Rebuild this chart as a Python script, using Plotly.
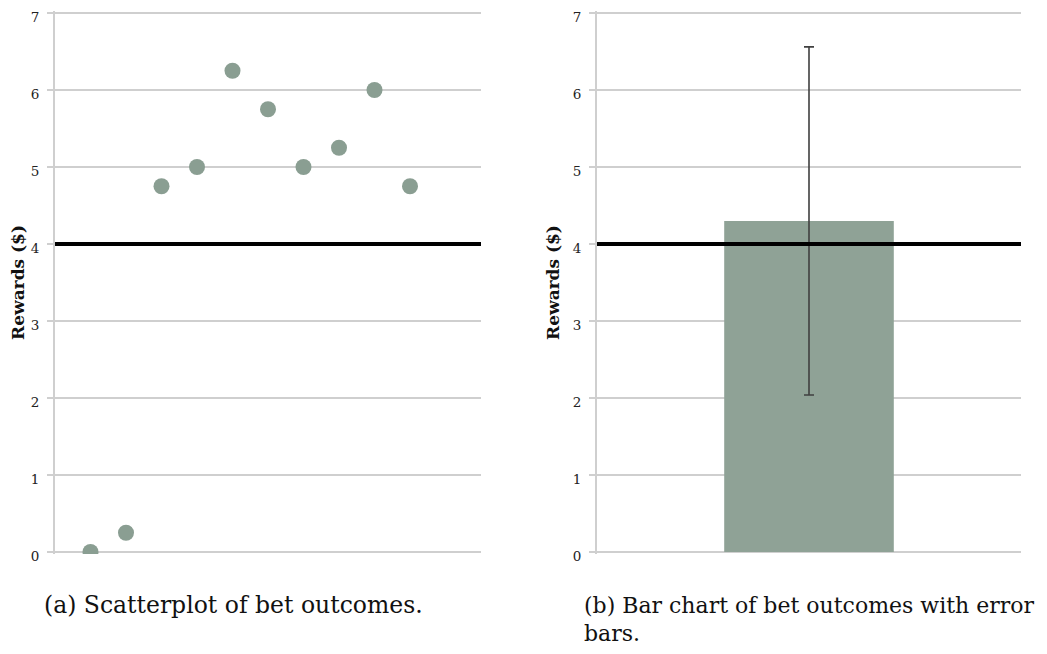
import plotly.graph_objects as go

# Data
bet_index = [1, 2, 3, 4, 5, 6, 7, 8, 9, 10]
rewards = [0, 0.25, 4.75, 5, 6.25, 5.75, 5, 5.25, 6, 4.75]
bar_mean = [4.3]
bar_err = [2.26]
threshold = 4
y_ticks = [0, 1, 2, 3, 4, 5, 6, 7]

GRID = "#cfcfcf"
MARK = "#8a9e92"

# page has an 8px body margin: work in window pixels, convert to paper coords
OFF = 8
W, H = 1047 - 2 * OFF, 654 - 2 * OFF


def px_x(p):
    return (p - OFF) / W


def px_y(p):
    return 1 - (p - OFF) / H


fig = go.Figure()

fig.add_trace(go.Scatter(
    x=bet_index, y=rewards, mode="markers",
    marker=dict(color=MARK, size=16, line=dict(width=0)),
    xaxis="x", yaxis="y", showlegend=False))

fig.add_trace(go.Bar(
    x=[0], y=bar_mean, width=0.4,
    marker=dict(color="#8fa296", line=dict(width=0)),
    error_y=dict(type="data", array=bar_err, visible=True,
                 color="#404040", thickness=1.6, width=5),
    xaxis="x2", yaxis="y2", showlegend=False))

for xr, yr in (("x domain", "y"), ("x2 domain", "y2")):
    fig.add_shape(type="line", xref=xr, yref=yr, x0=0, x1=1,
                  y0=threshold, y1=threshold,
                  line=dict(color="black", width=4), layer="above")

PAD = 0.025
yaxis_common = dict(
    range=[-PAD, 7 + PAD], tickvals=y_ticks, showgrid=True, gridcolor=GRID, gridwidth=2,
    showline=True, linecolor=GRID, linewidth=2, zeroline=False, automargin=False,
    ticks="outside", ticklen=6, tickcolor=GRID, tickwidth=2, ticklabelstandoff=5,
    ticklabeloverflow="allow", ticklabelshift=4,
    tickfont=dict(family="DejaVu Serif", size=13.5, color="#222"),
    title=dict(text="<b>Rewards ($)</b>", standoff=9,
               font=dict(family="DejaVu Serif", size=17, color="#111")),
)

ppu = (552 - 13) / 7.0
ydom = [px_y(552 + PAD * ppu), px_y(13 - PAD * ppu)]
fig.update_layout(
    width=W, height=H,
    margin=dict(l=0, r=0, t=0, b=0),
    plot_bgcolor="white", paper_bgcolor="white",
    xaxis=dict(domain=[px_x(55), px_x(481)], range=[0, 12], showgrid=False, automargin=False,
               showticklabels=False, zeroline=False, showline=False, ticks=""),
    yaxis=dict(domain=ydom, anchor="x", **yaxis_common),
    xaxis2=dict(domain=[px_x(597), px_x(1021)], range=[-0.5, 0.5], showgrid=False,
                automargin=False, showticklabels=False, zeroline=False, showline=False,
                ticks=""),
    yaxis2=dict(domain=ydom, anchor="x2", **yaxis_common),
)

captions = [
    ("(a) Scatterplot of bet outcomes.", 42, 605, 23.5),
    ("(b) Bar chart of bet outcomes with error", 582, 605, 22),
    ("bars.", 582, 633, 22),
]
for txt, px, py, fs in captions:
    fig.add_annotation(text=txt, xref="paper", yref="paper",
                       x=px_x(px), y=px_y(py), xanchor="left", yanchor="middle",
                       showarrow=False,
                       font=dict(family="DejaVu Serif", size=fs, color="#111"))

fig.write_html("out.html")
